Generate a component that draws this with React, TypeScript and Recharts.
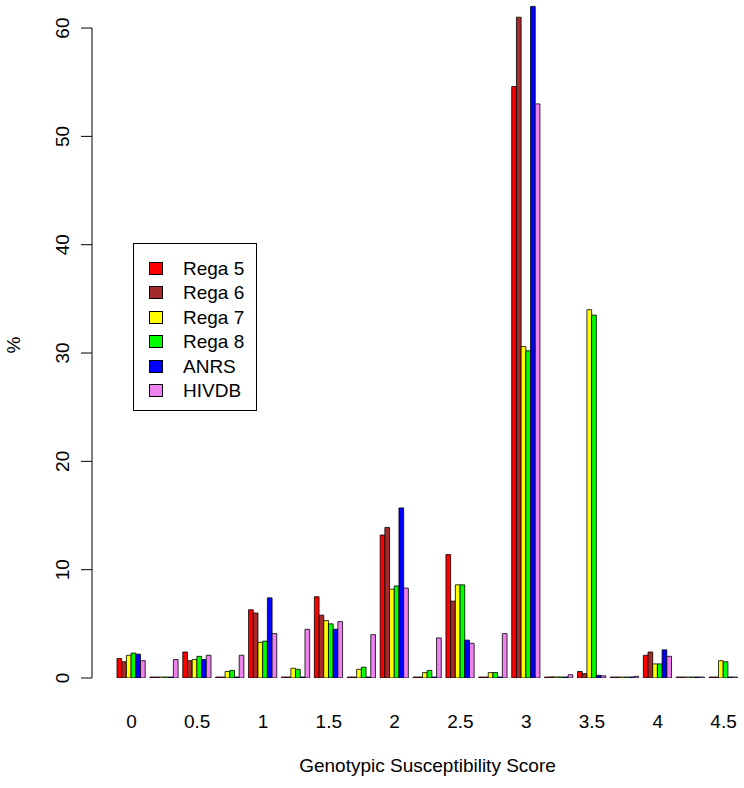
import React from 'react';
import { Bar, BarChart, Legend, XAxis, YAxis } from 'recharts';

// GSS groups (step 0.25) and the share of patients (%) per interpretation system
const scores = ['0', '0.25', '0.5', '0.75', '1', '1.25', '1.5', '1.75', '2', '2.25', '2.5', '2.75', '3', '3.25', '3.5', '3.75', '4', '4.25', '4.5'];
const rega5 = [1.8, 0, 2.4, 0, 6.3, 0, 7.5, 0, 13.2, 0, 11.4, 0, 54.6, 0.05, 0.6, 0, 2.1, 0, 0];
const rega6 = [1.5, 0, 1.6, 0, 6.0, 0, 5.8, 0, 13.9, 0, 7.1, 0, 61.0, 0.1, 0.4, 0, 2.4, 0, 0];
const rega7 = [2.1, 0, 1.7, 0.6, 3.3, 0.9, 5.3, 0.8, 8.2, 0.5, 8.6, 0.5, 30.6, 0.1, 34.0, 0, 1.3, 0, 1.6];
const rega8 = [2.3, 0, 2.0, 0.7, 3.4, 0.8, 5.0, 1.0, 8.5, 0.7, 8.6, 0.5, 30.2, 0.1, 33.5, 0, 1.3, 0, 1.5];
const anrs = [2.2, 0, 1.7, 0, 7.4, 0, 4.5, 0, 15.7, 0, 3.5, 0, 62.0, 0, 0.25, 0, 2.6, 0, 0];
const hivdb = [1.6, 1.7, 2.1, 2.1, 4.1, 4.5, 5.2, 4.0, 8.3, 3.7, 3.2, 4.1, 53.0, 0.3, 0.2, 0.15, 2.0, 0, 0];

const seriesKeys = ['rega5', 'rega6', 'rega7', 'rega8', 'anrs', 'hivdb'];
const seriesNames = ['Rega 5', 'Rega 6', 'Rega 7', 'Rega 8', 'ANRS', 'HIVDB'];
const seriesColors = ['#FF0000', '#A52A2A', '#FFFF00', '#00FF00', '#0000FF', '#EE82EE'];

// only every other group gets a label (the others would overlap)
const xTickLabels = ['0', '0.5', '1', '1.5', '2', '2.5', '3', '3.5', '4', '4.5'];
const yTicks = [0, 10, 20, 30, 40, 50, 60];

const data = scores.map((score, i) => ({
    score,
    rega5: rega5[i],
    rega6: rega6[i],
    rega7: rega7[i],
    rega8: rega8[i],
    anrs: anrs[i],
    hivdb: hivdb[i],
}));

const WIDTH = 744;
const HEIGHT = 788;
const PLOT_BOTTOM = 678;
const FONT = '"Liberation Sans", Arial, Helvetica, sans-serif';
const FS = 19;

const YTick = (props: any) => {
    const { x, y, payload } = props;
    const ax = x - 23;
    const lx = ax - 23;
    return (
        <g>
            <line x1={ax} y1={y} x2={ax - 11} y2={y} stroke="#000" strokeWidth={1} />
            {payload.value === yTicks[yTicks.length - 1] && (
                <line x1={ax} y1={y} x2={ax} y2={PLOT_BOTTOM} stroke="#000" strokeWidth={1} />
            )}
            <text
                x={lx}
                y={y}
                transform={`rotate(-90 ${lx} ${y})`}
                textAnchor="middle"
                fontSize={FS}
                fontFamily={FONT}
                fill="#000"
            >
                {payload.value}
            </text>
        </g>
    );
};

const XTick = (props: any) => {
    const { x, y, payload } = props;
    if (!xTickLabels.includes(payload.value)) return null;
    return (
        <text x={x} y={y + 50} textAnchor="middle" fontSize={FS} fontFamily={FONT} fill="#000">
            {payload.value}
        </text>
    );
};

const YTitle = (props: any) => {
    const { viewBox } = props;
    const tx = viewBox.x + 20;
    const ty = viewBox.y + viewBox.height / 2 + 4;
    return (
        <text
            x={tx}
            y={ty}
            transform={`rotate(-90 ${tx} ${ty})`}
            textAnchor="middle"
            fontSize={FS}
            fontFamily={FONT}
            fill="#000"
        >
            %
        </text>
    );
};

const LegendBox = () => (
    <div
        style={{
            width: 124,
            height: 168,
            border: '1px solid #000',
            background: '#fff',
            fontFamily: FONT,
            fontSize: FS,
            paddingTop: 12,
            boxSizing: 'border-box',
        }}
    >
        {seriesNames.map((name, i) => (
            <div key={name} style={{ display: 'flex', alignItems: 'center', height: 24.5 }}>
                <span
                    style={{
                        display: 'inline-block',
                        width: 12,
                        height: 11,
                        marginLeft: 15,
                        background: seriesColors[i],
                        border: '1px solid #000',
                    }}
                />
                <span style={{ marginLeft: 20, color: '#000', lineHeight: 1 }}>{name}</span>
            </div>
        ))}
    </div>
);

const App: React.FC = () => {
    return (
        <div style={{ position: 'absolute', left: 0, top: 0, width: WIDTH, height: HEIGHT, background: '#fff' }}>
            <BarChart
                width={WIDTH}
                height={HEIGHT}
                data={data}
                margin={{ top: 4, right: 4, bottom: 0, left: 0 }}
                barGap={0}
                barSize={4.7}
            >
                <XAxis
                    dataKey="score"
                    axisLine={false}
                    tickLine={false}
                    tickSize={0}
                    tickMargin={0}
                    height={110}
                    interval={0}
                    tick={<XTick />}
                    label={{
                        value: 'Genotypic Susceptibility Score',
                        position: 'insideBottom',
                        offset: 16,
                        fontSize: FS,
                        fontFamily: FONT,
                        fill: '#000',
                    }}
                />
                <YAxis
                    width={115}
                    domain={[0, 62.22]}
                    allowDataOverflow
                    ticks={yTicks}
                    axisLine={false}
                    tickLine={false}
                    tickSize={0}
                    tickMargin={0}
                    interval={0}
                    tick={<YTick />}
                    label={<YTitle />}
                />
                <Legend
                    layout="vertical"
                    align="center"
                    verticalAlign="middle"
                    content={<LegendBox />}
                    wrapperStyle={{ position: 'absolute', left: 133, top: 243, width: 'auto', height: 'auto' }}
                />
                {seriesKeys.map((key, i) => (
                    <Bar
                        key={key}
                        dataKey={key}
                        name={seriesNames[i]}
                        fill={seriesColors[i]}
                        stroke="#000"
                        strokeWidth={0.8}
                        minPointSize={1}
                        isAnimationActive={false}
                    />
                ))}
            </BarChart>
        </div>
    );
};

export default App;
